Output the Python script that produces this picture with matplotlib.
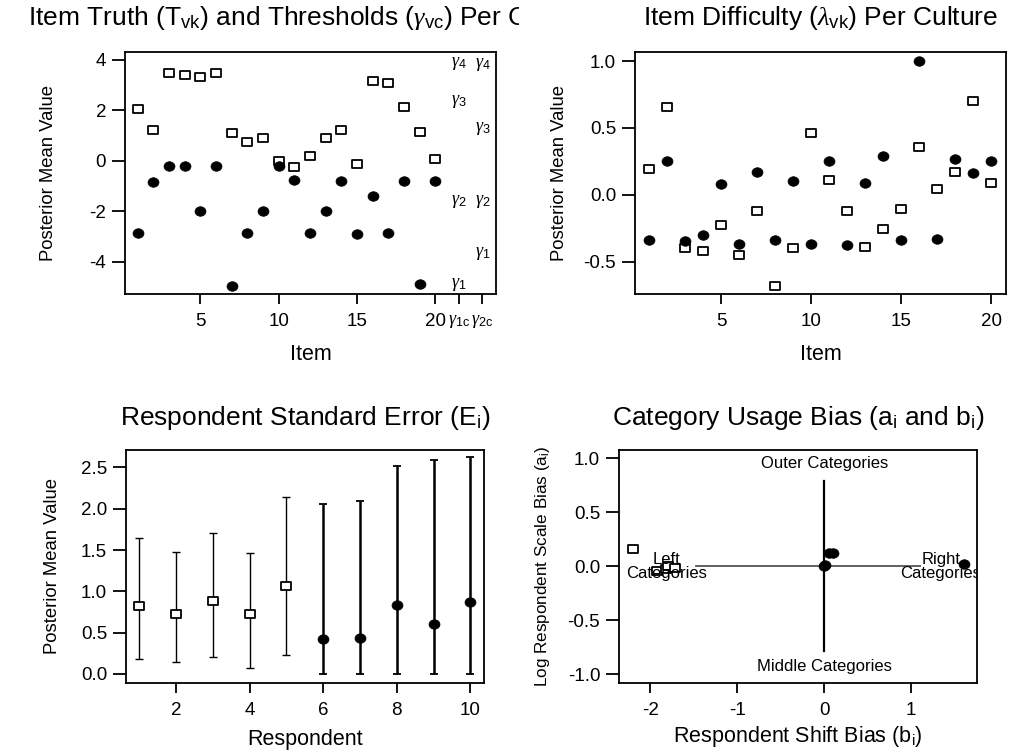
import numpy as np
import matplotlib
matplotlib.use("Agg")
import matplotlib.pyplot as plt
from matplotlib.path import Path
from matplotlib.transforms import Bbox, TransformedBbox, Affine2D

plt.rcParams['font.family'] = ['Liberation Sans', 'DejaVu Sans']
plt.rcParams['mathtext.fontset'] = 'custom'
plt.rcParams['mathtext.rm'] = 'Liberation Sans'
plt.rcParams['mathtext.it'] = 'Liberation Serif:italic'
plt.rcParams['mathtext.bf'] = 'Liberation Sans:bold'
plt.rcParams['axes.unicode_minus'] = False

# ---------------- data ----------------
items = list(range(1, 21))
truth_c1 = [2.04, 1.23, 3.45, 3.39, 3.30, 3.45, 1.08, 0.73, 0.91, 0.00,
            -0.26, 0.20, 0.88, 1.23, -0.13, 3.16, 3.07, 2.11, 1.12, 0.05]
truth_c2 = [-2.87, -0.85, -0.21, -0.21, -1.99, -0.21, -4.94, -2.85, -1.99, -0.21,
            -0.77, -2.87, -1.99, -0.81, -2.91, -1.40, -2.85, -0.81, -4.89, -0.81]
gamma_pos = [21.5, 23.0]
gamma_tick_labels = [r'$\gamma_{\rm 1c}$', r'$\gamma_{\rm 2c}$']
gamma_c1 = [-4.91, -1.62, 2.33, 3.85]   # thresholds column at 21.5
gamma_c2 = [-3.65, -1.62, 1.28, 3.80]   # thresholds column at 23
gamma_names = [r'$\gamma_{\rm 1}$', r'$\gamma_{\rm 2}$', r'$\gamma_{\rm 3}$', r'$\gamma_{\rm 4}$']

diff_c1 = [0.195, 0.66, -0.40, -0.42, -0.23, -0.45, -0.12, -0.68, -0.40, 0.46,
           0.11, -0.12, -0.39, -0.26, -0.11, 0.36, 0.04, 0.17, 0.70, 0.09]
diff_c2 = [-0.34, 0.25, -0.35, -0.30, 0.08, -0.37, 0.17, -0.34, 0.10, -0.37,
           0.25, -0.38, 0.09, 0.29, -0.34, 1.00, -0.33, 0.27, 0.16, 0.25]

resp_c1 = [1, 2, 3, 4, 5]
err_c1 = [0.82, 0.73, 0.88, 0.73, 1.06]
err_lo_c1 = [0.18, 0.14, 0.21, 0.07, 0.23]
err_hi_c1 = [1.64, 1.47, 1.71, 1.46, 2.14]
resp_c2 = [6, 7, 8, 9, 10]
err_c2 = [0.42, 0.43, 0.83, 0.60, 0.87]
err_lo_c2 = [0.0, 0.0, 0.0, 0.0, 0.0]
err_hi_c2 = [2.06, 2.09, 2.52, 2.59, 2.62]

shift_c1 = [-2.20, -1.92, -1.82, -1.80, -1.72]
scale_c1 = [0.16, -0.04, -0.03, 0.00, -0.02]
shift_c2 = [0.00, 0.01, 0.06, 0.10, 1.61]
scale_c2 = [0.00, 0.01, 0.12, 0.12, 0.02]

# ---------------- style helpers ----------------
sq_verts = [(-1, -0.69), (1, -0.69), (1, 0.69), (-1, 0.69), (-1, -0.69)]
SQ = Path(sq_verts, [Path.MOVETO, Path.LINETO, Path.LINETO, Path.LINETO, Path.CLOSEPOLY])
ELL = Affine2D().scale(1.0, 0.87).transform_path(Path.unit_circle())

TITLE_FS = 19
XLABEL_FS = 15.5
YLABEL_FS = 13.3
TICK_FS = 13.5

fig = plt.figure(figsize=(10.2, 7.51), dpi=100)


def px_axes(x0, y0, x1, y1):
    W, H = 1020.0, 751.0
    return fig.add_axes([x0 / W, 1 - y1 / H, (x1 - x0) / W, (y1 - y0) / H])


def style(ax):
    for s in ax.spines.values():
        s.set_linewidth(1.3)
    ax.tick_params(axis='both', direction='out', labelsize=TICK_FS, width=1.3, colors='black')
    ax.tick_params(axis='y', length=9.5, pad=4)
    ax.tick_params(axis='x', length=7.5, pad=6)


def sq(ax, x, y, ms=7.4):
    ax.plot(x, y, linestyle='none', marker=SQ, ms=ms, mfc='white', mec='black', mew=1.3)


def dot(ax, x, y, ms=7.9):
    ax.plot(x, y, linestyle='none', marker=ELL, ms=ms, mfc='black', mec='black', mew=0.5)


def labels(ax, xl, yl, xoff, yoff, yfs=YLABEL_FS):
    ax.set_xlabel(xl, fontsize=XLABEL_FS)
    ax.set_ylabel(yl, fontsize=yfs)
    ax.xaxis.set_label_coords(0.5, xoff)
    ax.yaxis.set_label_coords(yoff, 0.5)
    ax.xaxis.label.set_va('center')
    ax.yaxis.label.set_va('center')


def title(ax, t, gap_px):
    bb = ax.get_position()
    h = bb.height * 751
    ax.set_title(t, fontsize=TITLE_FS, y=1 + gap_px / h, va='center', pad=0)
    return ax.title

# ---------------- panel 1 ----------------
ax1 = px_axes(125, 52, 496, 294)
style(ax1)
sq(ax1, items, truth_c1)
dot(ax1, items, truth_c2)
ax1.set_xlim(0.2, 23.87)
ax1.set_ylim(-5.27, 4.30)
ax1.set_xticks([5, 10, 15, 20] + gamma_pos)
ax1.set_xticklabels(['5', '10', '15', '20'] + gamma_tick_labels)
for lab in ax1.get_xticklabels()[4:]:
    lab.set_fontsize(13)
ax1.set_yticks([-4, -2, 0, 2, 4])
for g, name in zip(gamma_c1, gamma_names):
    ax1.text(gamma_pos[0], g, name, ha='center', va='center', fontsize=13)
for g, name in zip(gamma_c2, gamma_names):
    ax1.text(gamma_pos[1], g, name, ha='center', va='center', fontsize=13)
labels(ax1, 'Item', 'Posterior Mean Value', -60 / 242, -76 / 371)
t1 = title(ax1, r'Item Truth (T$_{\rm vk}$) and Thresholds ($\gamma_{\rm vc}$) Per Culture', 34)
t1.set_clip_box(TransformedBbox(Bbox([[0, 0], [519 / 1020, 1]]), fig.transFigure))
t1.set_clip_on(True)

# ---------------- panel 2 ----------------
ax2 = px_axes(635, 52, 1006, 294)
style(ax2)
sq(ax2, items, diff_c1)
dot(ax2, items, diff_c2)
ax2.set_xlim(0.2, 20.82)
ax2.set_ylim(-0.743, 1.068)
ax2.set_xticks([5, 10, 15, 20])
ax2.set_yticks([-0.5, 0.0, 0.5, 1.0])
ax2.set_yticklabels(['-0.5', '0.0', '0.5', '1.0'])
labels(ax2, 'Item', 'Posterior Mean Value', -60 / 242, -75 / 371)
title(ax2, r'Item Difficulty ($\lambda_{\rm vk}$) Per Culture', 34)

# ---------------- panel 3 ----------------
ax3 = px_axes(126, 450, 484, 683)
style(ax3)
lo1 = np.array(err_c1) - np.array(err_lo_c1)
hi1 = np.array(err_hi_c1) - np.array(err_c1)
ax3.errorbar(resp_c1, err_c1, yerr=[lo1, hi1], fmt='none', ecolor='black',
             elinewidth=1.0, capsize=3.2, capthick=1.0)
lo2 = np.array(err_c2) - np.array(err_lo_c2)
hi2 = np.array(err_hi_c2) - np.array(err_c2)
ax3.errorbar(resp_c2, err_c2, yerr=[lo2, hi2], fmt='none', ecolor='black',
             elinewidth=1.8, capsize=3.2, capthick=1.3)
sq(ax3, resp_c1, err_c1)
dot(ax3, resp_c2, err_c2)
ax3.set_xlim(0.64, 10.37)
ax3.set_ylim(-0.109, 2.71)
ax3.set_xticks([2, 4, 6, 8, 10])
ax3.set_yticks([0, 0.5, 1.0, 1.5, 2.0, 2.5])
ax3.set_yticklabels(['0.0', '0.5', '1.0', '1.5', '2.0', '2.5'])
labels(ax3, 'Respondent', 'Posterior Mean Value', -57 / 233, -73 / 358)
title(ax3, r'Respondent Standard Error (E$_{\rm i}$)', 32)

# ---------------- panel 4 ----------------
ax4 = px_axes(619, 450, 977, 683)
style(ax4)
ax4.plot([-1.47, 1.10], [0, 0], color='#555555', lw=1.3)
ax4.plot([0, 0], [-0.78, 0.79], color='black', lw=1.6)
ann_fs = 12
ax4.text(0, 0.95, 'Outer Categories', ha='center', va='center', fontsize=ann_fs)
ax4.text(0, -0.93, 'Middle Categories', ha='center', va='center', fontsize=ann_fs)
ax4.text(-1.81, 0.0, 'Left\nCategories', ha='center', va='center', fontsize=ann_fs,
         linespacing=0.9, clip_on=True)
ax4.text(1.34, 0.0, 'Right\nCategories', ha='center', va='center', fontsize=ann_fs,
         linespacing=0.9, clip_on=True)
sq(ax4, shift_c1, scale_c1)
dot(ax4, shift_c2, scale_c2)
ax4.set_xlim(-2.36, 1.756)
ax4.set_ylim(-1.08, 1.074)
ax4.set_xticks([-2, -1, 0, 1])
ax4.set_yticks([-1.0, -0.5, 0.0, 0.5, 1.0])
ax4.set_yticklabels(['-1.0', '-0.5', '0.0', '0.5', '1.0'])
labels(ax4, r'Respondent Shift Bias (b$_{\rm i}$)', r'Log Respondent Scale Bias (a$_{\rm i}$)',
       -53.5 / 233, -76 / 358, yfs=12.3)
title(ax4, r'Category Usage Bias (a$_{\rm i}$ and b$_{\rm i}$)', 32)

fig.savefig('out.png', dpi=100)
